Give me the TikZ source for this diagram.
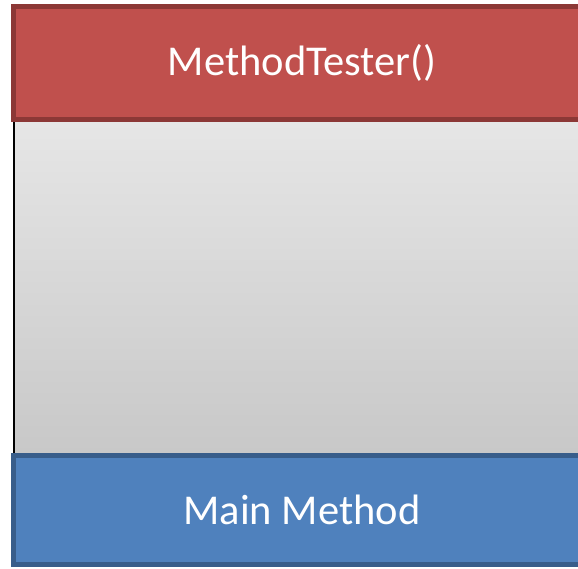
\documentclass[tikz,border=0pt]{standalone}
\usepackage{fontspec}
\setmainfont{Carlito}
\definecolor{redfill}{HTML}{C0504D}
\definecolor{redline}{HTML}{8C3836}
\definecolor{bluefill}{HTML}{4F81BD}
\definecolor{blueline}{HTML}{385D8A}
\definecolor{graytop}{HTML}{E6E6E6}
\definecolor{graybot}{HTML}{C8C8C8}
\begin{document}
\begin{tikzpicture}[x=1pt,y=1pt,
  bar/.style={draw=#1line, fill=#1fill, line width=5pt, minimum width=577pt,
    inner sep=0pt, text=white, font=\fontsize{42.5}{50}\selectfont}]
\useasboundingbox (0,0) rectangle (578,568);
\clip (0,0) rectangle (578,568);
\node (body) [rectangle, inner sep=0pt, minimum width=586pt, minimum height=331pt,
  top color=graytop, bottom color=graybot, draw=none] at (307,280.5) {};
\draw[line width=1.5pt, black] (body.north west) -- (body.south west);
\node (tester) [bar=red, minimum height=113pt] at (302,505) {MethodTester()};
\node (main) [bar=blue, minimum height=109pt] at (302,58) {Main Method};
\end{tikzpicture}
\end{document}
